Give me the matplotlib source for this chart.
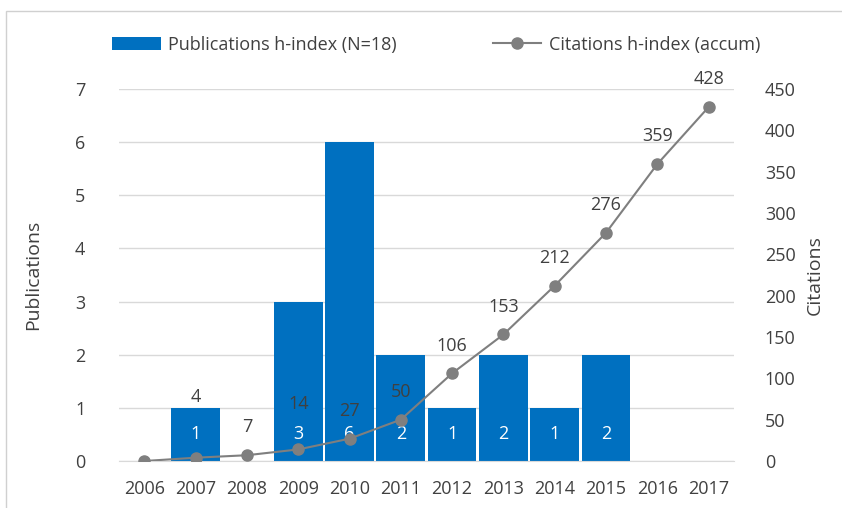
import matplotlib

matplotlib.use("Agg")
import matplotlib.pyplot as plt
from matplotlib.patches import Rectangle

years = ["2006", "2007", "2008", "2009", "2010", "2011",
         "2012", "2013", "2014", "2015", "2016", "2017"]
publications = [0, 1, 0, 3, 6, 2, 1, 2, 1, 2, 0, 0]
citations = [0, 4, 7, 14, 27, 50, 106, 153, 212, 276, 359, 428]

BLUE = "#0070C0"
GREY = "#7F7F7F"
TEXT = "#404040"

plt.rcParams["font.family"] = ["Open Sans", "DejaVu Sans"]

fig = plt.figure(figsize=(8.42, 5.08), dpi=100)
ax = fig.add_axes([0.141, 0.0925, 0.731, 0.7325])
ax2 = ax.twinx()

x = list(range(len(years)))

# bars on the left axis
ax.set_axisbelow(True)
ax.yaxis.grid(True, color="#D9D9D9", linewidth=1)
bars = ax.bar(x, publications, width=0.95, color=BLUE, zorder=2,
              label="Publications h-index (N=18)")
for xi, v in zip(x, publications):
    if v > 0:
        ax.text(xi, 0.5, str(v), ha="center", va="center", color="white",
                fontsize=13, zorder=3)

ax.set_xlim(-0.5, len(years) - 0.5)
ax.set_ylim(0, 7)
ax.set_yticks(range(0, 8))
ax.set_xticks(x)
ax.set_xticklabels(years)
ax.set_ylabel("Publications", fontsize=14, color=TEXT, labelpad=24)

# citations line on the right axis
line, = ax2.plot(x, citations, color=GREY, linewidth=1.5, marker="o",
                 markersize=8, zorder=4, label="Citations h-index (accum)")
# Excel nudged a couple of labels up to clear the bars
lift = {4: 44, 14: 33}
for xi, v in zip(x, citations):
    if v > 0:
        ax2.annotate(str(v), (xi, v), xytext=(0, lift.get(v, 20)),
                     textcoords="offset points", ha="center", va="center",
                     color=TEXT, fontsize=13)
ax2.set_ylim(0, 450)
ax2.set_yticks(range(0, 451, 50))
ax2.set_ylabel("Citations", fontsize=14, color=TEXT, labelpad=7)

for a in (ax, ax2):
    for s in a.spines.values():
        s.set_visible(False)
    a.tick_params(length=0, labelsize=13, colors=TEXT)
ax.tick_params(axis="x", pad=14)
ax.tick_params(axis="y", pad=24)
ax2.tick_params(axis="y", pad=22)
ax.spines["bottom"].set_visible(True)
ax.spines["bottom"].set_color("#D9D9D9")
ax2.patch.set_visible(False)

fig.legend(handles=[bars, line], loc="center", bbox_to_anchor=(0.518, 0.912),
           ncol=2, frameon=False, fontsize=13, handlelength=2.7,
           handletextpad=0.4, columnspacing=5.3, labelcolor=TEXT)

fig.patches.append(Rectangle((0.007, -0.01), 1.05, 0.988, transform=fig.transFigure,
                             fill=False, edgecolor="#D0D0D0", linewidth=1))

fig.savefig("out.png", dpi=100, facecolor="white")
